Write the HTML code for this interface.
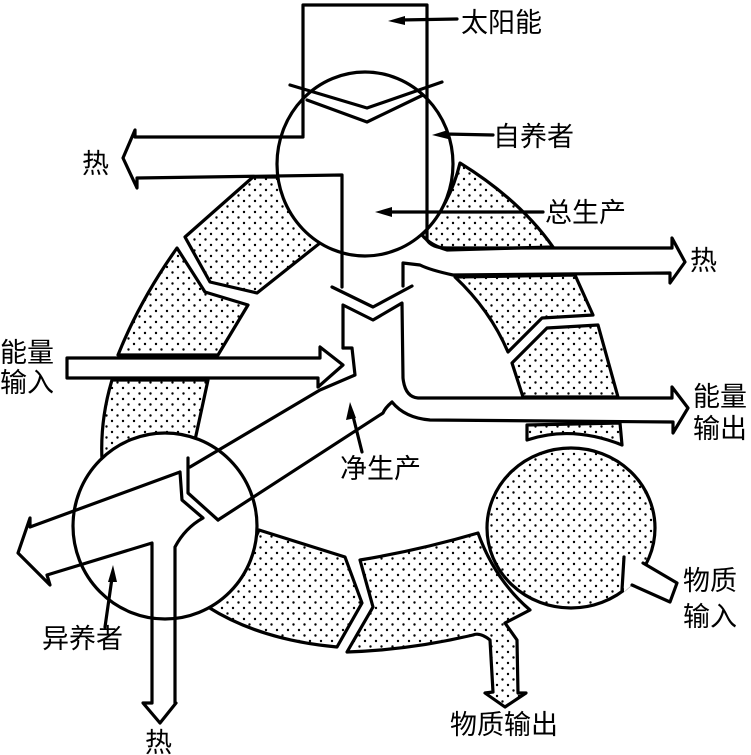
<!DOCTYPE html>
<html><head><meta charset="utf-8"><style>
html,body{margin:0;padding:0;background:#fff;}
svg{display:block;}
text{font-family:"Liberation Sans","Noto Sans CJK SC","WenQuanYi Zen Hei",sans-serif;fill:#000;}
</style></head><body>
<svg width="751" height="755" viewBox="0 0 751 755" xmlns="http://www.w3.org/2000/svg">
<defs>
<pattern id="dots" width="11" height="11" patternUnits="userSpaceOnUse">
<rect width="11" height="11" fill="#fff"/>
<circle cx="2" cy="3" r="1.2" fill="#000"/>
<circle cx="7.5" cy="8.5" r="1.2" fill="#000"/>
</pattern>
</defs>
<g stroke="#000" stroke-width="3.2" fill="none" stroke-linejoin="round" stroke-linecap="round">
<!-- stippled segments -->
<path fill="url(#dots)" d="M253,177 L185,237 L210,282 L257,293 L320,243 Q290,215 280,177 Z"/>
<path fill="url(#dots)" d="M177,248 Q140,300 118,355 L218,355 L248,305 L205,292 Z"/>
<path fill="url(#dots)" d="M112,380 Q100,420 102,460 Q140,435 195,440 L208,380 Z"/>
<path fill="url(#dots)" d="M460,163 Q520,200 553,247 L447,250 Q430,245 422,235 Q450,205 460,163 Z"/>
<path fill="url(#dots)" d="M455,277 Q490,310 508,352 L542,318 L593,315 L575,275 Z"/>
<path fill="url(#dots)" d="M512,363 L547,328 L598,325 L618,397 L523,397 Z"/>
<path fill="url(#dots)" d="M527,425 L620,423 L622,445 Q572,425 527,440 Z"/>
<path fill="url(#dots)" d="M259,530 L345,557 L362,603 L337,647 Q260,640 208,607 Q240,575 259,530 Z"/>
<path fill="url(#dots)" d="M360,560 Q420,550 478,533 Q495,580 530,610 L505,623 L517,640 L518,693 L526,693 L505,707 L485,693 L493,692 L490,640 Q480,632 473,635 Q410,650 347,652 L373,607 Z"/>
<ellipse fill="url(#dots)" cx="571" cy="528" rx="84" ry="80"/>
<!-- material input stub -->
<path fill="#fff" d="M623,558 L630,560 L643,563 L677,583 L670,602 L632,585 L624,592 Z" stroke="none"/>
<path d="M624,557 L622,590 M643,563 L677,583 L670,602 L632,585"/>
<!-- autotroph circle -->
<ellipse fill="#fff" cx="365" cy="164" rx="88" ry="92"/>
<!-- heterotroph circle -->
<ellipse fill="#fff" cx="165" cy="526" rx="92" ry="93"/>
<!-- sun box -->
<path d="M303,136 L303,5 L427,5 L427,240"/>
<path d="M290,85 L367,108 L442,82"/>
<path d="M307,100 L367,122 L423,95"/>
<!-- left heat arrow -->
<path d="M303,137 L135,137 L135,130 L123,158 L137,188 L137,178 L342,175 L342,287"/>
<!-- right heat arrow -->
<path d="M427,240 Q432,248 447,248 L672,248 L672,238 L685,262 L670,283 L670,273 L453,275 Q430,270 420,265 L403,263 L403,286"/>
<!-- chevrons in stem -->
<path d="M332,287 L373,307 L412,286"/>
<path d="M343,348 L343,305 L373,320 L402,303 L403,378 Q405,397 418,398 L672,398 L672,387 L688,408 L673,433 L673,422 L430,420 Q405,418 392,402 Q385,408 383,413 L218,520"/>
<path d="M343,348 L352,348 L355,375 L320,390 L190,467"/>
<!-- energy input -->
<path d="M320,358 L67,358 L67,378 L318,378 L318,387 L343,365 L320,347 Z" fill="#fff"/>
<path d="M188,458 L188,493 L218,520"/>
<path d="M180,472 L30,527 L30,518 L18,553 L50,585 L47,575 L152,543 L152,703 L143,703 L160,723 L176,703 L175,703 L175,547 Q185,528 203,518 L182,500 L180,472"/>
<!-- leaders -->
<path d="M400,20 L457,19 M445,134 L493,135 M387,212 L543,212 M352,412 L362,452 M112,578 L105,627"/>
</g>
<g fill="#000">
<polygon points="388,21 405,16 405,25"/>
<polygon points="432,135 448,130 448,139"/>
<polygon points="375,212 392,207 392,217"/>
<polygon points="350,402 346,420 356,418"/>
<polygon points="113,565 108,582 117,582"/>
</g>
<text x="461" y="32" font-size="27">太阳能</text>
<text x="493" y="146" font-size="27">自养者</text>
<text x="545" y="222" font-size="27">总生产</text>
<text x="82" y="173" font-size="27">热</text>
<text x="690" y="270" font-size="27">热</text>
<text x="0" y="362" font-size="27">能量</text>
<text x="0" y="392" font-size="27">输入</text>
<text x="693" y="406" font-size="27">能量</text>
<text x="693" y="438" font-size="27">输出</text>
<text x="340" y="478" font-size="27">净生产</text>
<text x="683" y="590" font-size="27">物质</text>
<text x="683" y="626" font-size="27">输入</text>
<text x="42" y="648" font-size="27">异养者</text>
<text x="145" y="752" font-size="27">热</text>
<text x="450" y="734" font-size="27">物质输出</text>
</svg>
</body></html>
